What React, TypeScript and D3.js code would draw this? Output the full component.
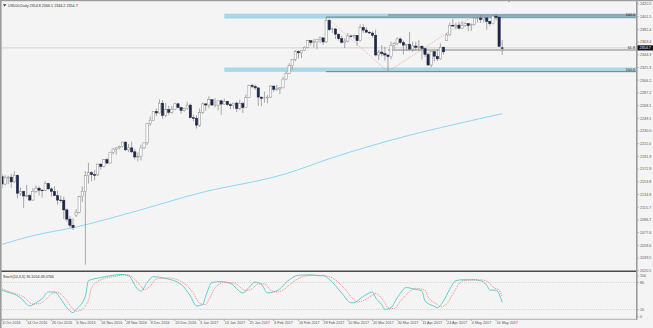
import React from 'react';
import * as d3 from 'd3';

const W = 653;
const H = 328;

// Daily candles, US500 CFD, 4 Oct 2016 .. 18 May 2017 (bar index 0..162)
const opens = [2161.5,2150.5,2159.7,2160.8,2153.7,2163.7,2136.7,2139.2,2132.6,2133.0,2126.5,2139.6,2144.3,2141.3,2141.2,2151.3,2143.2,2139.4,2133.0,2126.4,2126.2,2111.7,2097.9,2088.7,2104.0,2108.0,2131.5,2139.6,2163.3,2167.5,2164.5,2164.2,2180.4,2176.9,2187.1,2181.9,2198.2,2202.9,2204.7,2206.5,2213.4,2201.7,2204.7,2198.8,2191.1,2191.9,2204.7,2212.2,2241.3,2246.2,2259.5,2257.0,2271.7,2253.3,2262.0,2258.1,2262.5,2270.8,2265.2,2261.0,2263.8,2268.9,2249.9,2249.3,2238.8,2257.8,2270.7,2269.0,2277.0,2268.9,2268.9,2275.3,2270.4,2274.6,2269.5,2267.9,2271.9,2263.7,2271.3,2265.2,2280.1,2298.4,2296.7,2294.7,2280.9,2278.9,2279.6,2280.8,2297.4,2292.6,2293.1,2294.7,2307.9,2316.1,2328.2,2337.6,2349.2,2347.2,2351.2,2355.5,2365.4,2362.8,2363.8,2367.3,2369.7,2363.6,2396.0,2381.9,2383.1,2375.3,2368.4,2363.0,2364.9,2372.6,2372.5,2373.5,2365.4,2385.3,2381.4,2378.2,2377.0,2373.5,2344.0,2348.4,2346.0,2344.0,2341.6,2358.6,2361.1,2368.1,2362.7,2358.8,2360.2,2352.9,2357.5,2355.5,2357.2,2353.8,2344.9,2329.0,2349.0,2342.2,2338.2,2355.8,2366.0,2374.1,2388.6,2387.4,2388.8,2384.2,2388.3,2391.2,2388.1,2389.5,2399.3,2399.4,2396.9,2399.6,2394.4,2390.9,2402.3,2400.7,2354.8];
const highs = [2165.5,2163.9,2162.9,2165.9,2169.6,2164.5,2145.4,2140.5,2149.2,2135.6,2144.4,2148.4,2147.2,2142.6,2154.8,2152.4,2145.7,2147.1,2140.7,2133.3,2131.5,2113.8,2102.6,2099.1,2113.0,2133.0,2146.9,2170.1,2182.3,2169.9,2171.4,2180.8,2181.2,2188.1,2189.9,2198.7,2204.8,2205.7,2208.0,2213.8,2214.1,2210.5,2214.1,2202.6,2197.9,2209.4,2212.8,2241.6,2251.7,2259.8,2264.0,2277.5,2276.2,2272.1,2268.1,2267.5,2272.6,2272.2,2266.2,2264.8,2273.8,2271.3,2254.5,2253.6,2263.9,2272.8,2271.5,2282.1,2277.5,2279.3,2275.3,2276.8,2278.7,2275.0,2272.1,2272.0,2274.3,2276.9,2273.8,2284.6,2299.5,2300.9,2299.8,2295.0,2281.1,2289.1,2283.9,2298.3,2298.2,2299.4,2295.9,2311.1,2319.2,2331.6,2337.6,2351.3,2351.3,2351.2,2357.0,2366.7,2366.1,2368.3,2367.3,2371.5,2370.8,2400.9,2397.5,2384.9,2383.8,2376.1,2373.1,2369.1,2376.9,2374.5,2374.4,2374.0,2390.0,2390.1,2385.7,2379.5,2379.6,2381.9,2351.8,2358.9,2356.2,2344.9,2363.8,2363.4,2370.4,2370.4,2365.9,2360.5,2378.4,2364.2,2363.8,2366.4,2358.2,2354.7,2348.3,2349.1,2349.4,2352.6,2361.4,2356.2,2376.9,2392.5,2398.2,2392.1,2393.7,2394.5,2392.9,2391.8,2391.4,2399.3,2401.4,2403.9,2399.7,2399.9,2395.4,2404.0,2405.7,2402.9,2366.5];
const lows = [2144.0,2148.5,2150.3,2144.9,2152.0,2128.8,2132.8,2114.7,2130.5,2124.4,2125.5,2137.2,2133.4,2130.1,2140.5,2141.9,2131.6,2132.5,2119.4,2122.5,2097.9,2094.0,2085.2,2081.5,2101.0,2106.5,2123.6,2029.5,2151.2,2154.6,2156.1,2162.4,2172.2,2175.6,2180.4,2181.0,2194.5,2194.5,2202.5,2205.3,2200.4,2198.2,2196.8,2187.4,2184.4,2186.0,2202.9,2208.9,2237.6,2245.2,2252.4,2256.3,2248.4,2250.8,2254.2,2256.2,2261.2,2264.1,2256.1,2258.8,2262.2,2249.1,2244.6,2233.6,2236.1,2255.6,2260.5,2264.1,2268.4,2265.3,2260.8,2254.2,2269.5,2268.0,2262.8,2263.3,2258.4,2262.0,2257.0,2264.7,2279.9,2294.1,2291.6,2268.0,2267.2,2272.4,2271.6,2279.9,2288.6,2290.2,2285.4,2294.6,2307.1,2315.4,2322.2,2334.8,2338.9,2339.6,2350.0,2353.9,2358.3,2355.1,2352.9,2361.9,2358.9,2362.0,2380.2,2376.9,2368.0,2365.5,2361.0,2354.5,2363.0,2370.0,2368.5,2358.2,2364.0,2377.2,2377.6,2375.5,2369.7,2341.9,2336.5,2342.1,2335.7,2319.0,2337.6,2352.9,2358.6,2360.6,2344.7,2350.7,2350.5,2348.9,2350.7,2350.7,2337.2,2341.2,2328.0,2325.5,2334.5,2335.0,2336.9,2344.5,2365.2,2373.2,2386.8,2382.4,2382.4,2383.8,2385.8,2379.7,2380.3,2388.2,2392.9,2392.4,2392.8,2381.9,2387.2,2389.9,2396.0,2356.2,2344.2];
const closes = [2150.5,2159.7,2160.8,2153.7,2163.7,2136.7,2139.2,2132.6,2133.0,2126.5,2139.6,2144.3,2141.3,2141.2,2151.3,2143.2,2139.4,2133.0,2126.4,2126.2,2111.7,2097.9,2088.7,2085.2,2108.0,2131.5,2139.6,2163.3,2167.5,2164.5,2164.2,2180.4,2176.9,2187.1,2181.9,2198.2,2202.9,2204.7,2206.5,2213.4,2201.7,2204.7,2198.8,2191.1,2191.9,2204.7,2212.2,2241.3,2246.2,2259.5,2257.0,2271.7,2253.3,2262.0,2258.1,2262.5,2270.8,2265.2,2261.0,2263.8,2268.9,2249.9,2249.3,2238.8,2257.8,2270.7,2269.0,2277.0,2268.9,2268.9,2275.3,2270.4,2274.6,2269.5,2267.9,2271.9,2263.7,2271.3,2265.2,2280.1,2298.4,2296.7,2294.7,2280.9,2278.9,2279.6,2280.8,2297.4,2292.6,2293.1,2294.7,2307.9,2316.1,2328.2,2337.6,2349.2,2347.2,2351.2,2355.5,2365.4,2362.8,2363.8,2367.3,2369.7,2363.6,2396.0,2381.9,2383.1,2375.3,2368.4,2363.0,2364.9,2372.6,2372.5,2373.5,2365.4,2385.3,2381.4,2378.2,2377.0,2373.5,2344.0,2348.4,2346.0,2344.0,2341.6,2358.6,2361.1,2368.1,2362.7,2358.8,2360.2,2352.9,2357.5,2355.5,2357.2,2353.8,2344.9,2329.0,2349.0,2342.2,2338.2,2355.8,2348.7,2374.1,2388.6,2387.4,2388.8,2384.2,2388.3,2391.2,2388.1,2389.5,2399.3,2399.4,2396.9,2399.6,2394.4,2390.9,2402.3,2400.7,2357.0,2354.7];

const dateLabels = ["4 Oct 2016","14 Oct 2016","26 Oct 2016","6 Nov 2016","16 Nov 2016","28 Nov 2016","8 Dec 2016","20 Dec 2016","3 Jan 2017","13 Jan 2017","25 Jan 2017","6 Feb 2017","16 Feb 2017","28 Feb 2017","10 Mar 2017","20 Mar 2017","30 Mar 2017","11 Apr 2017","24 Apr 2017","4 May 2017","16 May 2017"];
const dateLabelBars = [0,8,16,24,32,40,48,56,64,72,80,88,96,104,112,120,128,136,144,152,160];

const priceTicks = ["2420.5","2401.5","2382.4","2363.4","2344.3","2325.3","2306.2","2287.2","2268.1","2249.1","2230.0","2211.0","2191.9","2172.9","2153.8","2134.8","2115.7","2096.7","2077.6","2058.6","2039.5","2020.5"];

// moving average (light blue) read at bar indices
const maBars = [0,10,24,42,64,92,107,129,142,162];
const maValues = [2060,2073,2086,2108,2137,2166,2190,2220,2235,2256];

// Stochastic %K (main) and %D (signal)
const kBars = [0,3,4,6,9,11,13,15,17,19,21,23,24,27,28,32,36,39,41,44,45,47,49,53,58,61,63,65,66,68,71,74,78,80,82,84,86,88,90,92,96,100,103,104,106,110,113,114,116,119,120,121,123,124,126,128,131,133,136,137,140,141,143,145,147,149,153,155,157,158,160,162];
const kValues = [63,56,54,46,28,35,44,59,59,44,24,13,20,50,84,91,96,98,95,65,61,80,93,89,76,50,28,31,50,80,82,78,57,69,81,76,57,59,66,80,96,97,95,95,87,57,35,35,44,57,59,46,31,20,24,46,69,66,61,39,27,24,39,65,84,86,86,84,74,63,63,36];
const dBars = [0,3,5,7,10,12,14,16,18,20,22,24,25,28,29,32,37,40,42,45,46,48,50,54,59,62,64,66,67,69,72,75,79,81,83,85,87,89,91,93,97,101,104,105,107,111,114,115,117,120,121,122,124,125,127,129,132,134,137,138,141,142,144,146,148,150,154,156,158,159,161,162];
const dValues = [66,58,54,48,32,33,41,54,58,48,30,16,17,40,68,86,94,97,93,72,64,72,88,90,78,56,34,31,42,68,80,79,62,66,77,77,63,59,63,74,92,96,96,95,90,66,42,37,40,52,56,52,35,24,22,38,60,67,63,48,31,26,32,54,77,85,86,85,78,70,63,49];
const stochLevels = [80, 20];
const stochTickValues = [100, 80, 20, 0];

// support / resistance zones (price bands) and fibonacci anchors
const zoneTop = [2398.6, 2406.0];
const zoneBottom = [2318.7, 2325.3];
const fibA = { bar1: 105, p1: 2400.9, bar2: 125, p2: 2319.0 };
const fibB = { bar1: 125, p1: 2319.0, bar2: 153, p2: 2404.0 };
const zoneStartBar = 72;

const title = "US500,Daily  2354.8 2366.5 2344.2 2354.7";
const stochTitle = "Stoch(10,3,3) 36.1054 49.0766";
const lastPrice = 2354.7;

const FONT = "'Liberation Sans', Arial, sans-serif";

export default function App() {
  const plotL = 2, plotR = 636, mainTop = 2, mainBot = 270.5;
  const x = d3.scaleLinear().domain([0, 162]).range([2, 502.2]);
  const y = d3.scaleLinear().domain([2020.5, 2420.5]).range([270.7, 4]);
  const sy = d3.scaleLinear().domain([0, 100]).range([318.5, 273.5]);

  const n = closes.length;
  const bodyW = 2.3;

  const maLine = d3.line<number>().x((_, i) => x(maBars[i])).y((v) => y(v)).curve(d3.curveMonotoneX);
  const kLine = d3.line<number>().x((_, i) => x(kBars[i])).y((v) => sy(v)).curve(d3.curveMonotoneX);
  const dLine = d3.line<number>().x((_, i) => x(dBars[i])).y((v) => sy(v)).curve(d3.curveMonotoneX);

  const fs = 3.7;
  const zoneX0 = x(zoneStartBar);
  const fib618 = fibB.p2 - 0.618 * (fibB.p2 - fibB.p1);

  return (
    <svg width={W} height={H} style={{ position: 'absolute', left: 0, top: 0, display: 'block' }} fontFamily={FONT}>
      <defs>
        <clipPath id="mainClip"><rect x={plotL} y={mainTop} width={plotR - plotL} height={mainBot - mainTop} /></clipPath>
        <clipPath id="stochClip"><rect x={plotL} y={272} width={plotR - plotL} height={47} /></clipPath>
      </defs>
      <rect x={0} y={0} width={W} height={H} fill="#f4f4f4" />

      {/* main panel */}
      <g clipPath="url(#mainClip)">
        <rect x={zoneX0} width={plotR - zoneX0} y={y(zoneTop[1])} height={y(zoneTop[0]) - y(zoneTop[1])} fill="#a9d7e8" />
        <rect x={zoneX0} width={plotR - zoneX0} y={y(zoneBottom[1])} height={y(zoneBottom[0]) - y(zoneBottom[1])} fill="#a9d7e8" />
        <line x1={plotL} x2={plotR} y1={y(lastPrice)} y2={y(lastPrice)} stroke="#c9c9c9" strokeWidth={0.8} />
        <line x1={x(fibA.bar1)} x2={plotR} y1={y(fibA.p1)} y2={y(fibA.p1)} stroke="#555" strokeWidth={0.7} />
        <line x1={x(fibA.bar1)} x2={plotR} y1={y(fibA.p2)} y2={y(fibA.p2)} stroke="#555" strokeWidth={0.7} />
        <line x1={x(fibB.bar1)} x2={plotR} y1={y(fibB.p2)} y2={y(fibB.p2)} stroke="#555" strokeWidth={0.7} />
        <line x1={x(fibB.bar1)} x2={plotR} y1={y(fib618)} y2={y(fib618)} stroke="#555" strokeWidth={0.7} />
        <line x1={x(fibA.bar1)} y1={y(fibA.p1)} x2={x(fibA.bar2)} y2={y(fibA.p2)} stroke="#f08a8a" strokeWidth={0.7} strokeDasharray="1,1.2" />
        <line x1={x(fibB.bar1)} y1={y(fibB.p1)} x2={x(fibB.bar2)} y2={y(fibB.p2)} stroke="#f08a8a" strokeWidth={0.7} strokeDasharray="1,1.2" />
        <path d={maLine(maValues) || ''} fill="none" stroke="#8dd6f2" strokeWidth={1} />
        {d3.range(n).map((i) => {
          const o = opens[i], c = closes[i];
          const bull = c >= o;
          const cx = x(i);
          const top = y(Math.max(o, c));
          const bh = Math.max(0.6, y(Math.min(o, c)) - top);
          return (
            <g key={i}>
              <line x1={cx} x2={cx} y1={y(highs[i])} y2={y(lows[i])} stroke="#858585" strokeWidth={0.7} />
              <rect x={cx - bodyW / 2} y={top} width={bodyW} height={bh}
                fill={bull ? '#ffffff' : '#1d2747'} stroke={bull ? '#8a8a8a' : '#1d2747'} strokeWidth={0.5} />
            </g>
          );
        })}
      </g>
      {/* fib labels */}
      <g fontSize={fs} fill="#222" textAnchor="end">
        <text x={635} y={y(fibA.p1) - 0.9}>100.0</text>
        <text x={635} y={y(fib618) - 0.8}>61.8</text>
        <text x={635} y={y(fibA.p2) - 0.8}>100.0</text>
      </g>

      {/* title */}
      <path d="M3,4.2 L6.4,4.2 L4.7,6.4 Z" fill="#333" />
      <text x={8} y={6.6} fontSize={fs} fill="#333">{title}</text>
      <path d="M507.5,0.5 L510.5,0.5 L509,2.6 Z" fill="#aaa" />

      <line x1={0} x2={plotR + 1} y1={271.3} y2={271.3} stroke="#4a4a4a" strokeWidth={1.4} />

      {/* stochastic panel */}
      <g clipPath="url(#stochClip)">
        {stochLevels.map((lv) => (
          <line key={lv} x1={plotL} x2={plotR} y1={sy(lv)} y2={sy(lv)} stroke="#bdbdbd" strokeWidth={0.6} strokeDasharray="1,1.2" />
        ))}
        <path d={kLine(kValues) || ''} fill="none" stroke="#5fcfcc" strokeWidth={1} />
        <path d={dLine(dValues) || ''} fill="none" stroke="#f26a6a" strokeWidth={0.8} strokeDasharray="1,1" />
      </g>
      <text x={3} y={277.8} fontSize={fs} fill="#333">{stochTitle}</text>

      <line x1={0} x2={plotR + 1} y1={319.3} y2={319.3} stroke="#9a9a9a" strokeWidth={0.8} />

      {/* right axis */}
      <line x1={plotR + 0.8} x2={plotR + 0.8} y1={0} y2={319.7} stroke="#9c9c9c" strokeWidth={1.6} />
      <g fontSize={fs} fill="#555">
        {priceTicks.map((t) => {
          const yy = y(+t);
          return (
            <g key={t}>
              <line x1={plotR + 1.6} x2={plotR + 3} y1={yy} y2={yy} stroke="#777" strokeWidth={0.5} />
              <text x={640} y={yy + 1.3}>{t}</text>
            </g>
          );
        })}
        {stochTickValues.map((v) => {
          const yy = Math.min(Math.max(sy(v), 276), 317);
          return (
            <g key={'s' + v}>
              <line x1={plotR + 1.6} x2={plotR + 3} y1={yy} y2={yy} stroke="#777" strokeWidth={0.5} />
              <text x={640} y={yy + 1.3}>{v}</text>
            </g>
          );
        })}
      </g>
      <rect x={637.5} y={y(lastPrice) - 2.6} width={15.5} height={5.2} fill="#111" />
      <text x={639.5} y={y(lastPrice) + 1.3} fontSize={fs} fill="#fff">{lastPrice.toFixed(1)}</text>

      {/* date axis */}
      <g fontSize={fs} fill="#555">
        {dateLabels.map((d, i) => (
          <g key={d}>
            <line x1={x(dateLabelBars[i])} x2={x(dateLabelBars[i])} y1={319.5} y2={321} stroke="#777" strokeWidth={0.5} />
            <text x={x(dateLabelBars[i]) + 0.5} y={324.3}>{d}</text>
          </g>
        ))}
      </g>

      <rect x={0} y={0} width={1.6} height={H} fill="#9c9c9c" />
      <rect x={0} y={0} width={W} height={1.2} fill="#9c9c9c" />
    </svg>
  );
}
